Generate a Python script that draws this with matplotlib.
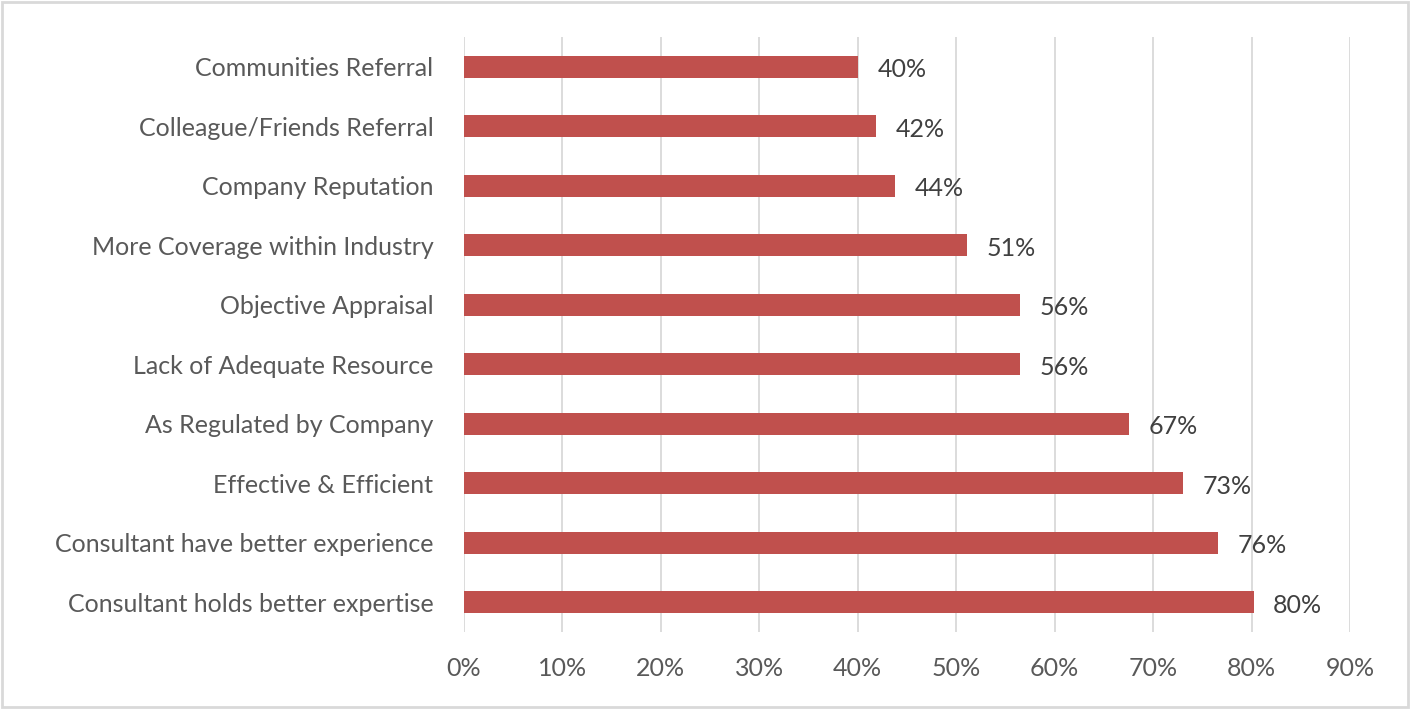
import matplotlib
matplotlib.use("Agg")
import matplotlib.pyplot as plt
from matplotlib.patches import Rectangle
from matplotlib.ticker import FuncFormatter, MultipleLocator

# top to bottom
categories = [
    "Communities Referral",
    "Colleague/Friends Referral",
    "Company Reputation",
    "More Coverage within Industry",
    "Objective Appraisal",
    "Lack of Adequate Resource",
    "As Regulated by Company",
    "Effective & Efficient",
    "Consultant have better experience",
    "Consultant holds better expertise",
]
values = [0.400, 0.419, 0.438, 0.511, 0.565, 0.565, 0.675, 0.730, 0.766, 0.802]
value_labels = ["40%", "42%", "44%", "51%", "56%", "56%", "67%", "73%", "76%", "80%"]

BAR = "#C0504D"
TXT = "#595959"
GRID = "#D9D9D9"
FS = 18

plt.rcParams["font.family"] = ["Lato", "DejaVu Sans"]

fig = plt.figure(figsize=(14.1, 7.09), dpi=100)
ax = fig.add_axes([464 / 1410, 1 - 632 / 709, (1350 - 464) / 1410, (632 - 37) / 709])

ypos = list(range(len(categories)))
ax.barh(ypos, values, height=0.37, color=BAR, zorder=3)
for y, v, lab in zip(ypos, values, value_labels):
    ax.text(v + 0.02, y + 0.05, lab, va="center", ha="left", fontsize=FS, color="#404040")

ax.set_xlim(0, 0.9)
ax.set_ylim(len(categories) - 0.5, -0.5)
ax.set_yticks(ypos)
ax.set_yticklabels(categories, fontsize=FS, color=TXT)
ax.xaxis.set_major_locator(MultipleLocator(0.1))
ax.xaxis.set_major_formatter(FuncFormatter(lambda x, _: f"{x * 100:.0f}%"))
ax.tick_params(axis="x", labelsize=FS, labelcolor=TXT, length=0, pad=18)
ax.tick_params(axis="y", length=0, pad=22)
ax.grid(axis="x", color=GRID, linewidth=1.3, zorder=0)
for s in ax.spines.values():
    s.set_visible(False)

# light frame around the whole chart
fig.patches.append(Rectangle((2 / 1410, 2 / 709), 1 - 4 / 1410, 1 - 4 / 709,
                             transform=fig.transFigure, fill=False,
                             edgecolor=GRID, linewidth=2))

fig.savefig("out.png", dpi=100)
